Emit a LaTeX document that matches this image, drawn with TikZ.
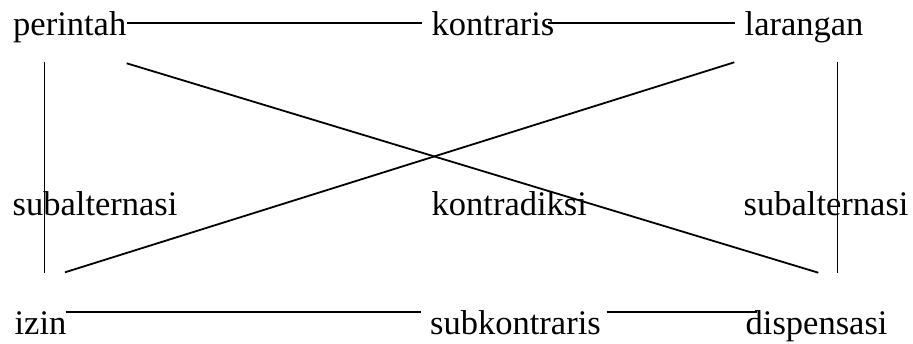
\documentclass[tikz,border=0pt]{standalone}
\usepackage{fontspec}
\setmainfont{Liberation Serif}
\begin{document}
\begin{tikzpicture}[x=1pt,y=-1pt,
  lbl/.style={anchor=base west,inner sep=0pt,font=\fontsize{34.5}{40}\selectfont},
  conn/.style={line width=1.8pt,black},
  vconn/.style={line width=1.4pt,black}]
\useasboundingbox (0,0) rectangle (913,344);
\fill[white] (0,0) rectangle (913,344);
% labels
\node[lbl] (perintah) at (13,36) {perintah};
\node[lbl] (kontraris) at (431.5,36) {kontraris};
\node[lbl] (larangan) at (744.5,36) {larangan};
\node[lbl] (subL) at (12.5,216) {subalternasi};
\node[lbl] (kontradiksi) at (431.5,216) {kontradiksi};
\node[lbl] (subR) at (743.5,216) {subalternasi};
\node[lbl] (izin) at (14.4,335) {izin};
\node[lbl] (subkontraris) at (430,335) {subkontraris};
\node[lbl] (dispensasi) at (745.5,335) {dispensasi};
% endpoints
\coordinate (t1a) at (127,23.3);
\coordinate (t1b) at (421.7,23.3);
\coordinate (t2a) at (548,23.3);
\coordinate (t2b) at (735,23.3);
\coordinate (b1a) at (65.7,312.3);
\coordinate (b1b) at (420.7,312.3);
\coordinate (b2a) at (606.7,312.3);
\coordinate (b2b) at (756.7,312.3);
\coordinate (vLa) at (44.3,61.7);
\coordinate (vLb) at (44.3,272.7);
\coordinate (vRa) at (837.7,61.7);
\coordinate (vRb) at (837.7,273.3);
\coordinate (d1a) at (126.7,63.3);
\coordinate (d1b) at (818.3,272.7);
\coordinate (d2a) at (734.3,62.3);
\coordinate (d2b) at (65,272.3);
% connectors
\draw[conn] (t1a) -- (t1b);
\draw[conn] (t2a) -- (t2b);
\draw[conn] (b1a) -- (b1b);
\draw[conn] (b2a) -- (b2b);
\draw[vconn] (vLa) -- (vLb);
\draw[vconn] (vRa) -- (vRb);
\draw[conn] (d1a) -- (d1b);
\draw[conn] (d2a) -- (d2b);
\end{tikzpicture}
\end{document}
